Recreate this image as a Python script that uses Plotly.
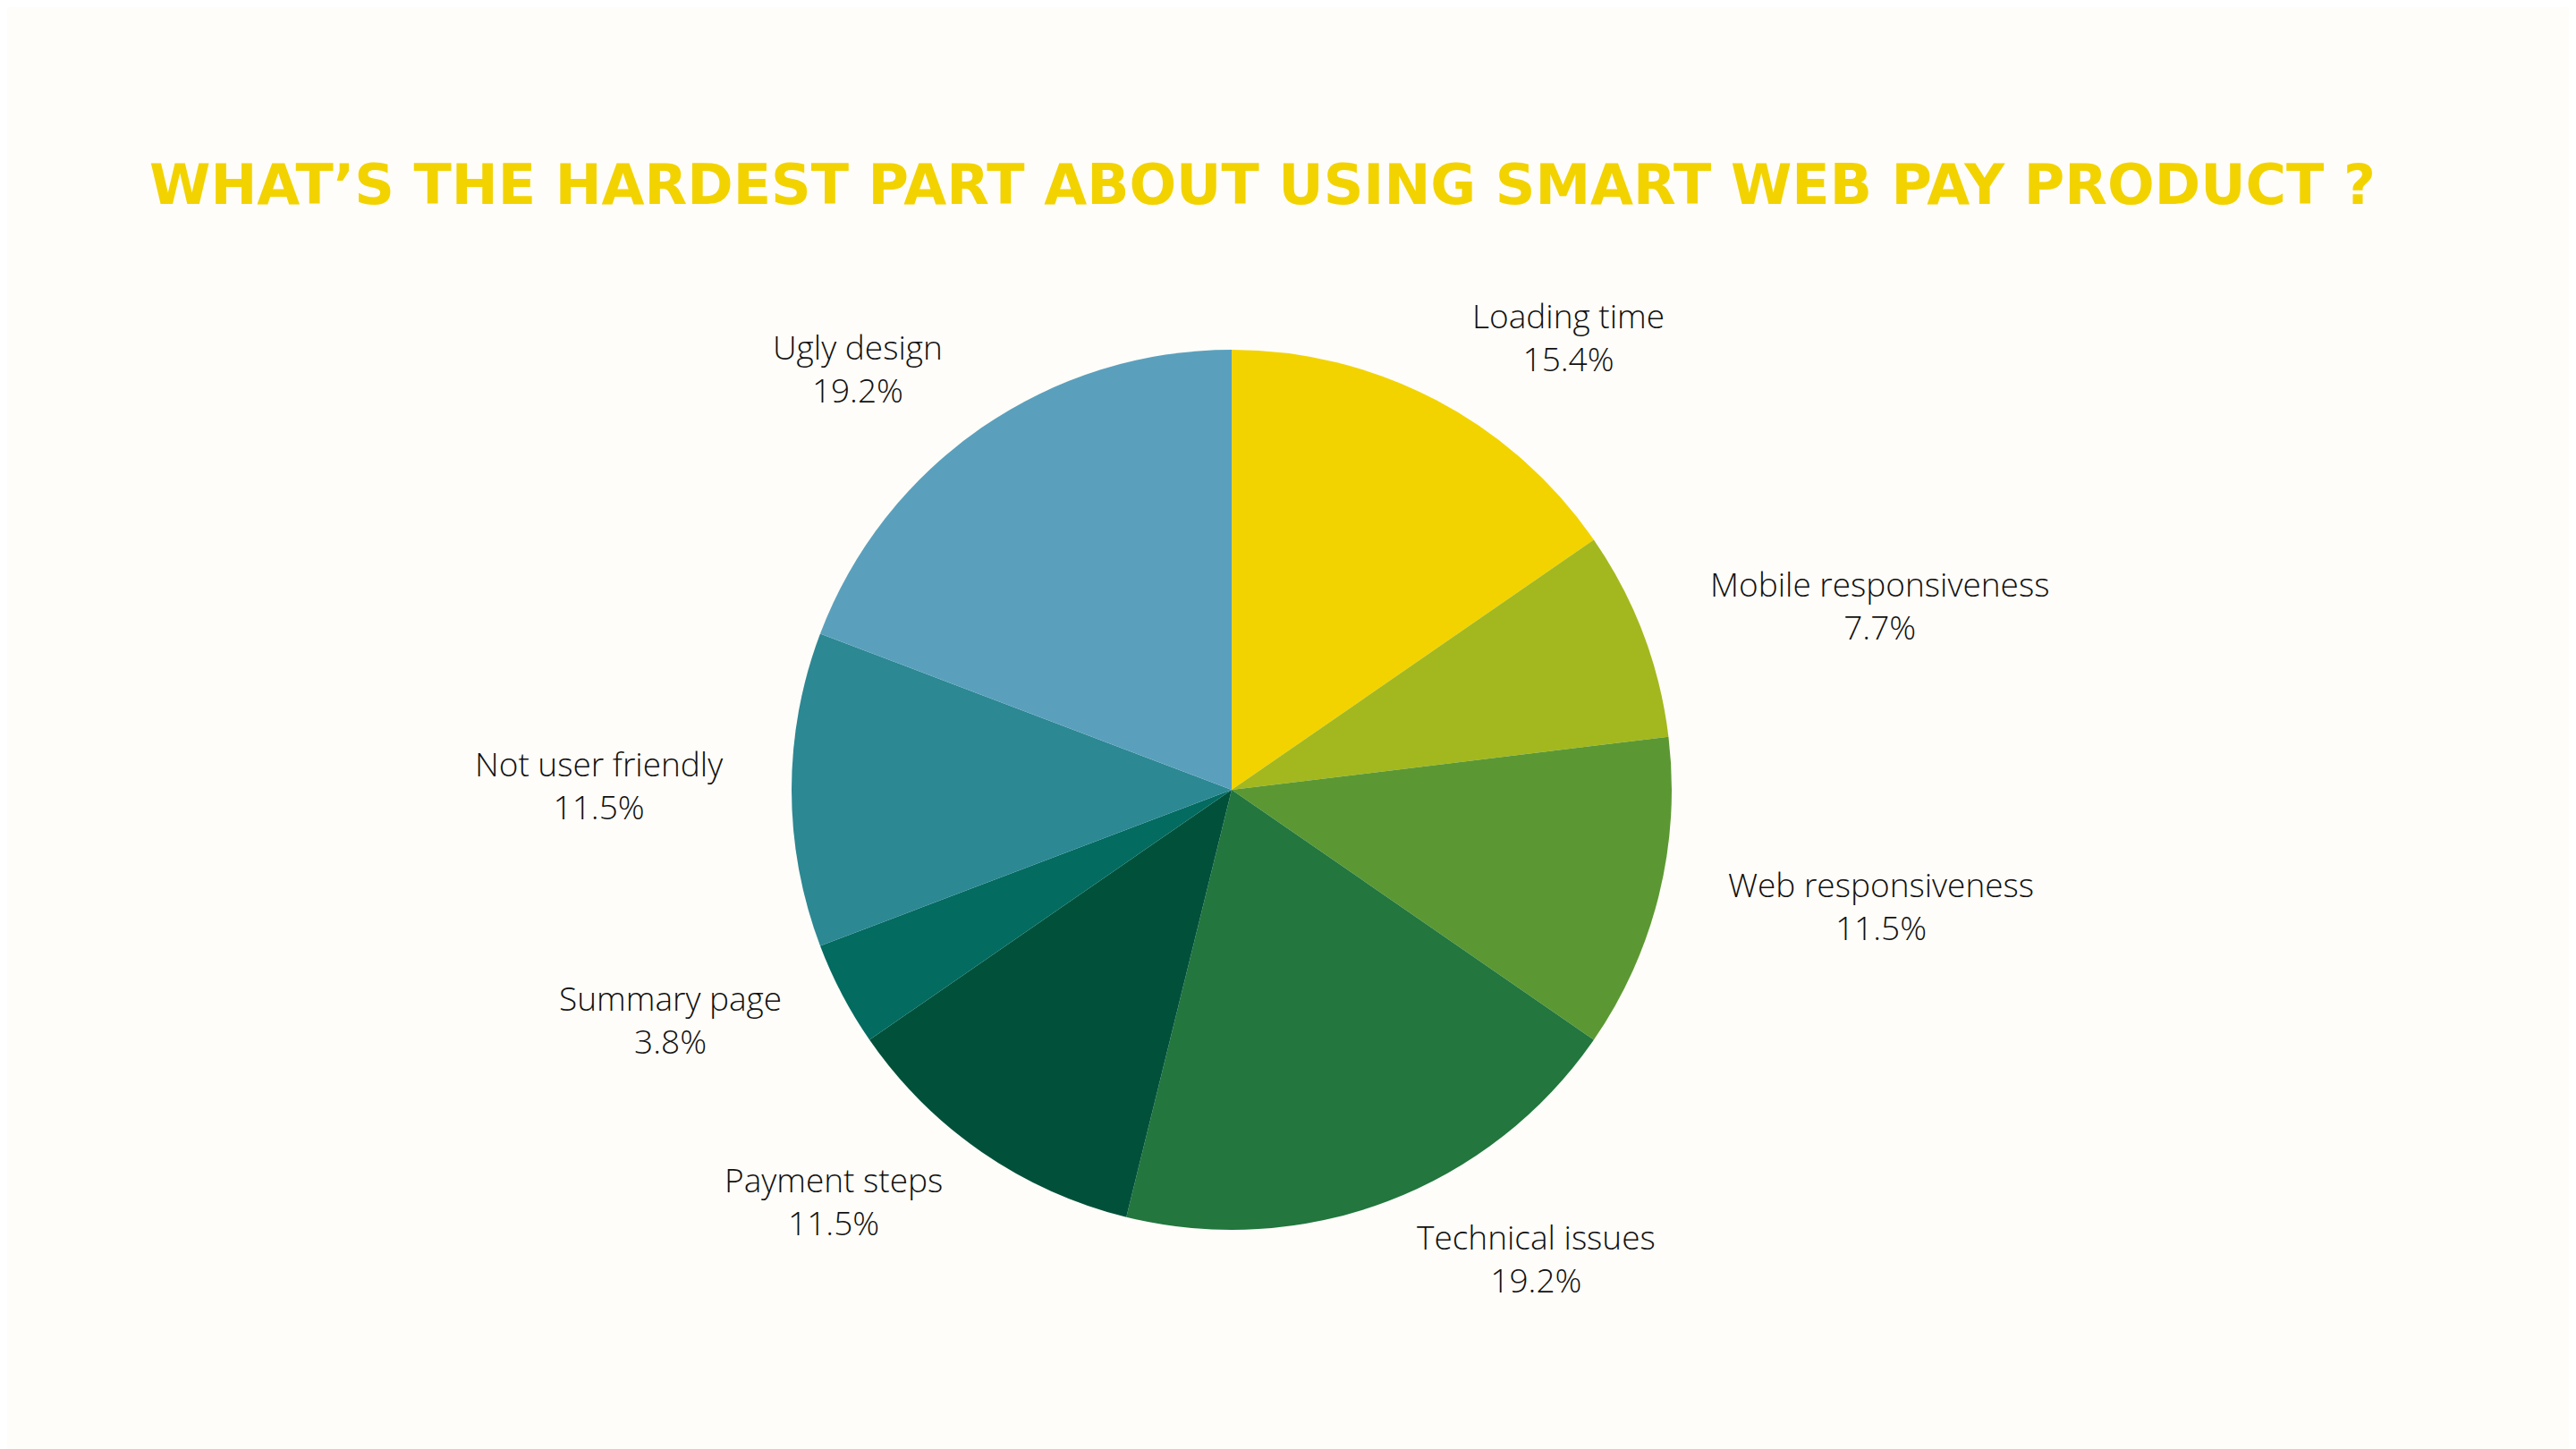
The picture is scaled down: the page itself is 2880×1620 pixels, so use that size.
import math
import plotly.graph_objects as go

categories = ["Loading time", "Mobile responsiveness", "Web responsiveness", "Technical issues",
              "Payment steps", "Summary page", "Not user friendly", "Ugly design"]
counts = [4, 2, 3, 5, 3, 1, 3, 5]
colors = ["#F2D300", "#A3B81E", "#5B9833", "#22763E", "#01513A", "#036B60", "#2C8893", "#5AA0BD"]
title_text = "WHAT’S THE HARDEST PART ABOUT USING SMART WEB PAY PRODUCT ?"

W, H = 2880, 1620
OFF = 8  # page body margin
CX, CY, R = 1377 - OFF, 883 - OFF, 492
BG = "#FFFDF9"

fig = go.Figure(go.Pie(
    labels=categories, values=counts, sort=False, direction="clockwise", rotation=0,
    marker=dict(colors=colors, line=dict(width=0)),
    textinfo="none", hoverinfo="label+percent", showlegend=False,
    domain=dict(x=[(CX - R) / W, (CX + R) / W], y=[(H - CY - R) / H, (H - CY + R) / H]),
))

total = sum(counts)
cum = 0
annotations = []
for cat, v in zip(categories, counts):
    mid = (cum + v / 2) / total * 2 * math.pi
    cum += v
    rr = R * 1.15
    px = CX + rr * math.sin(mid)
    py = CY - rr * math.cos(mid)
    pct = 100 * v / total
    right = math.sin(mid) > 0.01
    annotations.append(dict(
        x=px / W, y=(H - py) / H, xref="paper", yref="paper", yshift=6,
        xshift=4 if right else 0,
        text=f"{cat}<br>{pct:.1f}%", showarrow=False, align="center",
        xanchor="left" if right else "right", yanchor="middle",
        font=dict(family="Open Sans", size=37, color="#111111", weight=300),
    ))

annotations.append(dict(
    x=(165 - OFF) / W, y=(H - 206 + OFF) / H, xref="paper", yref="paper", text=f"<b>{title_text}</b>",
    showarrow=False, xanchor="left", yanchor="middle",
    font=dict(family="DejaVu Sans", size=62, color="#F2D300"),
))

fig.update_layout(
    width=W, height=H, margin=dict(l=0, r=0, t=0, b=0),
    paper_bgcolor=BG, plot_bgcolor=BG, annotations=annotations,
)
fig.write_html("out.html")
